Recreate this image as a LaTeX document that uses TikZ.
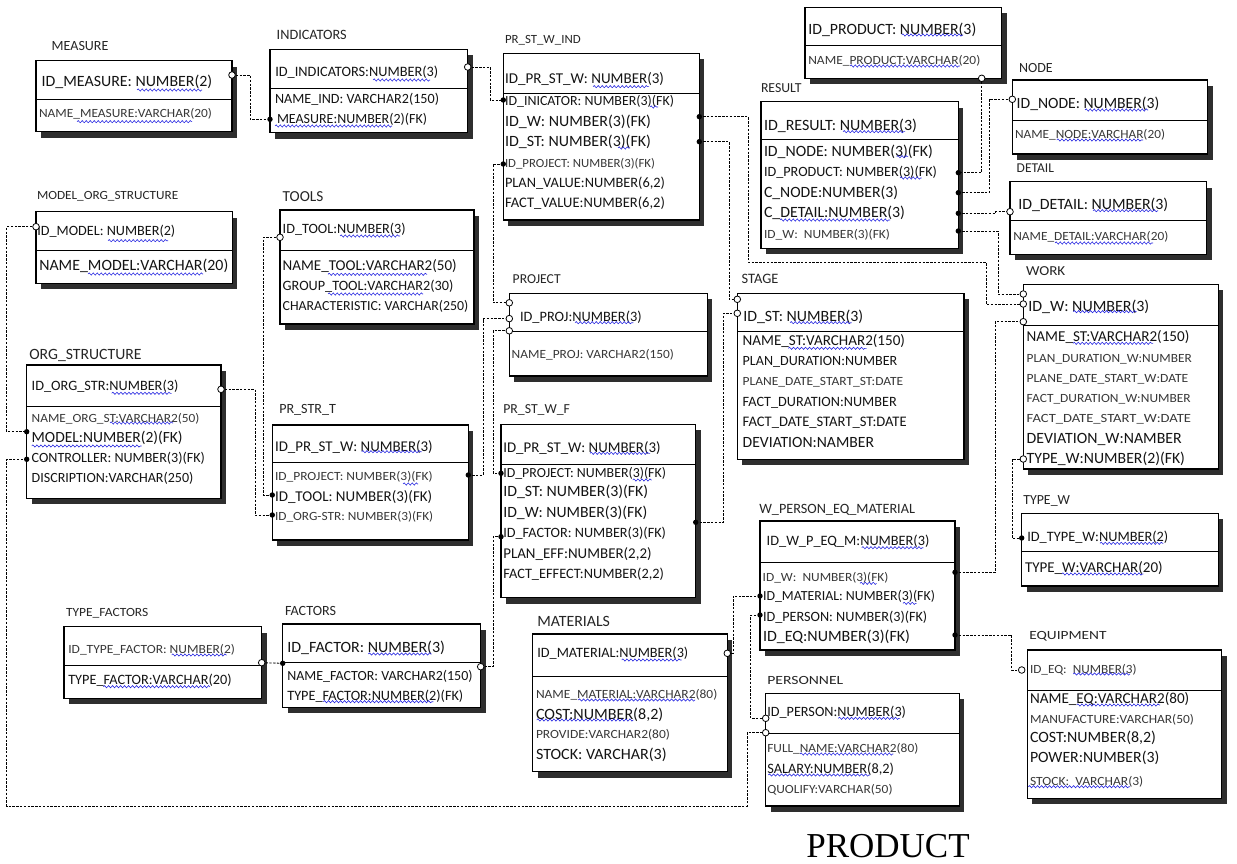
\documentclass[tikz,border=0pt]{standalone}
\usepackage{fontspec}
\setmainfont{Carlito}
\newfontfamily\capfont{Liberation Serif}
\usetikzlibrary{calc,shadows,decorations.pathmorphing}
\definecolor{squig}{RGB}{40,40,225}

% text set at a given size and stretched to a given width
\newcommand\fitn[2]{%
  \setbox0=\hbox{\fontsize{14}{14}\selectfont #2}%
  \pgfmathsetmacro\myr{#1/\the\wd0}%
  \pgfmathsetmacro\myfs{14*min(max(\myr,0.95),1.12)}%
  \setbox0=\hbox{\fontsize{\myfs}{\myfs}\selectfont #2}%
  \pgfmathsetmacro\myr{#1/\the\wd0}%
  \scalebox{\myr}[1]{\box0}}
\newcommand\fitl[2]{%
  \setbox0=\hbox{\fontsize{12.5}{12.5}\selectfont #2}%
  \pgfmathsetmacro\myr{#1/\the\wd0}%
  \scalebox{\myr}[1]{\box0}}

% table box with its key divider
\newcommand\entity[6]{%
  \node[ebox, minimum width={#4-#2}, minimum height={#5-#3}] (#1) at ({(#2+#4)/2},{(#3+#5)/2}) {};
  \draw[divl] (#1.west |- 0,#6) -- (#1.east |- 0,#6);}
\newcommand\entrow[5]{\node[rw] (#1) at (#2,#3) {\fitn{#4}{#5}};}
\newcommand\entrowl[5]{\node[rwl] (#1) at (#2,#3) {\fitl{#4}{#5}};}
\newcommand\enttitle[5]{\node[ttl] (#1) at (#2,#3) {\fitn{#4}{#5}};}
\newcommand\enttitlel[5]{\node[ttl] (#1) at (#2,#3) {\fitl{#4}{#5}};}
\newcommand\squig[3]{\draw[sq] (#1,#3) -- (#2,#3);}
\newcommand\opend[1]{\draw[line width=0.8pt, fill=white] (#1) circle[radius=3.3];}
\newcommand\filld[1]{\fill (#1) circle[radius=2.7];}

\tikzset{
  ebox/.style={draw, line width=1.2pt, fill=white, inner sep=0pt, outer sep=0pt,
    drop shadow={shadow xshift=5pt, shadow yshift=-6pt, fill=black!82, opacity=1}},
  divl/.style={line width=1pt},
  rw/.style={anchor=west, inner sep=0pt, outer sep=0pt, text=black!92},
  rwl/.style={rw, text=black!78},
  ttl/.style={anchor=west, inner sep=0pt, outer sep=0pt, text=black!85},
  fk/.style={line width=0.85pt, dash pattern=on 2.4pt off 1.4pt},
  sq/.style={draw=squig, line width=0.6pt, decorate,
    decoration={snake, amplitude=1.1pt, segment length=4pt}},
}

\begin{document}
\begin{tikzpicture}[x=1pt, y=-1pt]
\fill[white] (0,0) rectangle (1237,864);
\useasboundingbox (0,0) rectangle (1237,864);

% ---------- tables ----------
\entity{meas}{36}{60.7}{232}{131.7}{100}
\entity{ind}{270}{49.3}{467.7}{132.7}{88.3}
\entity{psi}{503.3}{53.3}{699.3}{220}{94}
\entity{prod}{805}{7.3}{1001.7}{78.3}{46}
\entity{res}{761}{101.7}{958.3}{248.3}{140}
\entity{node}{1012.3}{80}{1207.7}{154}{120.7}
\entity{det}{1010}{181.7}{1206.7}{254.3}{220}
\entity{mos}{36}{211.7}{232.3}{283.3}{250}
\entity{tools}{280}{210}{474}{324}{250}
\entity{org}{26.7}{365}{221}{498.3}{406.7}
\entity{prt}{272.3}{425}{468.3}{540}{462.7}
\entity{proj}{509.3}{293.3}{707.3}{376}{331.7}
\entity{stage}{737.3}{293.3}{964}{459.3}{331}
\entity{work}{1023.3}{284.3}{1218.3}{469}{325}
\entity{pwf}{501}{424.3}{695.7}{597.7}{464.3}
\entity{wp}{760}{521}{955}{650}{562.3}
\entity{mat}{532.7}{634}{727.3}{771.7}{676}
\entity{pers}{765.7}{693.3}{959.3}{806}{733.3}
\entity{tw}{1021.7}{513.3}{1218.3}{586}{551.7}
\entity{eq}{1027.3}{650}{1221.7}{798.3}{690}
\entity{tf}{64}{626.7}{261.7}{698.3}{665}
\entity{fac}{282.7}{624}{480.7}{707.3}{662.7}

% ---------- titles ----------
\enttitle{meas-t}{51.7}{46}{56.7}{MEASURE}
\enttitle{ind-t}{276.7}{35}{70}{INDICATORS}
\enttitlel{psi-t}{505}{40.7}{75.7}{PR\_ST\_W\_IND}
\enttitle{res-t}{761}{88.3}{40.7}{RESULT}
\enttitle{node-t}{1019}{68.3}{33.7}{NODE}
\enttitle{det-t}{1016.7}{168.3}{37.3}{DETAIL}
\enttitlel{mos-t}{37}{196.7}{141.3}{MODEL\_ORG\_STRUCTURE}
\enttitle{tools-t}{282.7}{196.7}{40.7}{TOOLS}
\enttitle{org-t}{29.3}{355}{112.3}{ORG\_STRUCTURE}
\enttitle{prt-t}{279.3}{410}{56.7}{PR\_STR\_T}
\enttitle{proj-t}{512.7}{279.3}{48}{PROJECT}
\enttitle{stage-t}{741.7}{279.3}{36.7}{STAGE}
\enttitle{work-t}{1026}{271}{35.7}{WORK}
\enttitle{pwf-t}{503.3}{410}{66.7}{PR\_ST\_W\_F}
\enttitle{wp-t}{759.3}{510}{155.7}{W\_PERSON\_EQ\_MATERIAL}
\enttitle{mat-t}{537.3}{621.7}{72.7}{MATERIALS}
\enttitlel{pers-t}{767.3}{680}{76}{PERSONNEL}
\enttitle{tw-t}{1023.3}{500.7}{46.7}{TYPE\_W}
\enttitlel{eq-t}{1029.3}{636.7}{77.3}{EQUIPMENT}
\enttitlel{tf-t}{66}{613.3}{82.3}{TYPE\_FACTORS}
\enttitle{fac-t}{285}{610.7}{51}{FACTORS}

% ---------- columns ----------
\entrow{meas-1}{41.7}{82}{170.6}{ID\_MEASURE: NUMBER(2)}
\entrowl{meas-2}{39}{114}{173}{NAME\_MEASURE:VARCHAR(20)}

\entrow{ind-1}{275.3}{72}{163}{ID\_INDICATORS:NUMBER(3)}
\entrow{ind-2}{275}{99}{164}{NAME\_IND: VARCHAR2(150)}
\entrow{ind-3}{277}{119.3}{150}{MEASURE:NUMBER(2)(FK)}

\entrow{psi-1}{505}{79.3}{159}{ID\_PR\_ST\_W: NUMBER(3)}
\entrow{psi-2}{505}{101.7}{169}{ID\_INICATOR: NUMBER(3)(FK)}
\entrow{psi-3}{505}{121.7}{146}{ID\_W: NUMBER(3)(FK)}
\entrow{psi-4}{505}{141.7}{146}{ID\_ST: NUMBER(3)(FK)}
\entrowl{psi-5}{505}{164}{150}{ID\_PROJECT: NUMBER(3)(FK)}
\entrow{psi-6}{505}{183.3}{160}{PLAN\_VALUE:NUMBER(6,2)}
\entrow{psi-7}{505}{203.3}{160}{FACT\_VALUE:NUMBER(6,2)}

\entrow{prod-1}{808.3}{30}{168}{ID\_PRODUCT: NUMBER(3)}
\entrowl{prod-2}{808.3}{60.7}{172}{NAME\_PRODUCT:VARCHAR(20)}

\entrow{res-1}{764}{126}{153}{ID\_RESULT: NUMBER(3)}
\entrow{res-2}{764}{151.7}{169}{ID\_NODE: NUMBER(3)(FK)}
\entrow{res-3}{764}{172.7}{173}{ID\_PRODUCT: NUMBER(3)(FK)}
\entrow{res-4}{764}{192.7}{134}{C\_NODE:NUMBER(3)}
\entrow{res-5}{764}{213.3}{141}{C\_DETAIL:NUMBER(3)}
\entrowl{res-6}{764}{235}{126}{ID\_W:\ \ NUMBER(3)(FK)}

\entrow{node-1}{1016.7}{104}{142.6}{ID\_NODE: NUMBER(3)}
\entrowl{node-2}{1015}{135}{150}{NAME\_NODE:VARCHAR(20)}

\entrow{det-1}{1018.3}{205}{150}{ID\_DETAIL: NUMBER(3)}
\entrowl{det-2}{1013.3}{236.7}{155}{NAME\_DETAIL:VARCHAR(20)}

\entrow{mos-1}{37.3}{231.7}{138}{ID\_MODEL: NUMBER(2)}
\entrow{mos-2}{39.3}{266}{189}{NAME\_MODEL:VARCHAR(20)}

\entrow{tools-1}{282.7}{229.3}{123}{ID\_TOOL:NUMBER(3)}
\entrow{tools-2}{282.7}{266}{174}{NAME\_TOOL:VARCHAR2(50)}
\entrow{tools-3}{282.7}{286}{170.7}{GROUP\_TOOL:VARCHAR2(30)}
\entrow{tools-4}{282.7}{306}{185.6}{CHARACTERISTIC: VARCHAR(250)}

\entrow{org-1}{31.7}{386.7}{146.7}{ID\_ORG\_STR:NUMBER(3)}
\entrowl{org-2}{31.7}{418.3}{167.7}{NAME\_ORG\_ST:VARCHAR2(50)}
\entrow{org-3}{31.7}{438.3}{151}{MODEL:NUMBER(2)(FK)}
\entrow{org-4}{31.7}{458.3}{173.3}{CONTROLLER: NUMBER(3)(FK)}
\entrow{org-5}{31.7}{478.3}{161.7}{DISCRIPTION:VARCHAR(250)}

\entrow{prt-1}{275}{446.7}{157.7}{ID\_PR\_ST\_W: NUMBER(3)}
\entrowl{prt-2}{275}{476.7}{157.7}{ID\_PROJECT: NUMBER(3)(FK)}
\entrow{prt-3}{275}{496.7}{157.3}{ID\_TOOL: NUMBER(3)(FK)}
\entrowl{prt-4}{275}{516.7}{158.3}{ID\_ORG-STR: NUMBER(3)(FK)}

\entrow{proj-1}{520}{317.3}{121.7}{ID\_PROJ:NUMBER(3)}
\entrowl{proj-2}{511.7}{355}{162.3}{NAME\_PROJ: VARCHAR2(150)}

\entrow{stage-1}{743.3}{317.3}{120}{ID\_ST: NUMBER(3)}
\entrow{stage-2}{742.7}{340.7}{162.3}{NAME\_ST:VARCHAR2(150)}
\entrow{stage-3}{742.7}{361.7}{154.6}{PLAN\_DURATION:NUMBER}
\entrowl{stage-4}{742.7}{382.7}{160.6}{PLANE\_DATE\_START\_ST:DATE}
\entrow{stage-5}{742.7}{402.7}{154}{FACT\_DURATION:NUMBER}
\entrow{stage-6}{742.7}{422.7}{164}{FACT\_DATE\_START\_ST:DATE}
\entrow{stage-7}{742.7}{442.7}{131.3}{DEVIATION:NAMBER}

\entrow{work-1}{1028.3}{306.7}{121}{ID\_W: NUMBER(3)}
\entrow{work-2}{1026.7}{336.7}{162.6}{NAME\_ST:VARCHAR2(150)}
\entrowl{work-3}{1026.7}{359}{165}{PLAN\_DURATION\_W:NUMBER}
\entrowl{work-4}{1026.7}{379}{161.6}{PLANE\_DATE\_START\_W:DATE}
\entrowl{work-5}{1026.7}{399}{164}{FACT\_DURATION\_W:NUMBER}
\entrowl{work-6}{1026.7}{419}{164.3}{FACT\_DATE\_START\_W:DATE}
\entrow{work-7}{1026.7}{439}{155}{DEVIATION\_W:NAMBER}
\entrow{work-8}{1026.7}{459}{158.3}{TYPE\_W:NUMBER(2)(FK)}

\entrow{pwf-1}{503.3}{448.3}{157.3}{ID\_PR\_ST\_W: NUMBER(3)}
\entrow{pwf-2}{503.3}{473.3}{162.7}{ID\_PROJECT: NUMBER(3)(FK)}
\entrow{pwf-3}{503.3}{492.3}{145}{ID\_ST: NUMBER(3)(FK)}
\entrow{pwf-4}{503.3}{513.3}{144}{ID\_W: NUMBER(3)(FK)}
\entrow{pwf-5}{503.3}{533.3}{162.7}{ID\_FACTOR: NUMBER(3)(FK)}
\entrow{pwf-6}{503.3}{554.3}{148.3}{PLAN\_EFF:NUMBER(2,2)}
\entrow{pwf-7}{503.3}{574.3}{160.7}{FACT\_EFFECT:NUMBER(2,2)}

\entrow{wp-1}{766.7}{541.7}{162.7}{ID\_W\_P\_EQ\_M:NUMBER(3)}
\entrowl{wp-2}{762.7}{577.7}{125.7}{ID\_W:\ \ NUMBER(3)(FK)}
\entrow{wp-3}{763}{596.7}{172}{ID\_MATERIAL: NUMBER(3)(FK)}
\entrow{wp-4}{763}{617.3}{164.3}{ID\_PERSON: NUMBER(3)(FK)}
\entrow{wp-5}{763}{636.7}{147}{ID\_EQ:NUMBER(3)(FK)}

\entrow{mat-1}{537.3}{653.3}{151}{ID\_MATERIAL:NUMBER(3)}
\entrowl{mat-2}{536}{695}{181.3}{NAME\_MATERIAL:VARCHAR2(80)}
\entrow{mat-3}{536}{715}{127.3}{COST:NUMBER(8,2)}
\entrowl{mat-4}{536}{735}{134}{PROVIDE:VARCHAR2(80)}
\entrow{mat-5}{536}{755}{130.7}{STOCK: VARCHAR(3)}

\entrow{pers-1}{767.3}{712.7}{138.7}{ID\_PERSON:NUMBER(3)}
\entrowl{pers-2}{767.3}{748.3}{151}{FULL\_NAME:VARCHAR2(80)}
\entrow{pers-3}{767.3}{769.3}{126.7}{SALARY:NUMBER(8,2)}
\entrowl{pers-4}{767.3}{789.3}{125.3}{QUOLIFY:VARCHAR(50)}

\entrow{tw-1}{1027.3}{537.3}{141}{ID\_TYPE\_W:NUMBER(2)}
\entrow{tw-2}{1025}{568.3}{137.7}{TYPE\_W:VARCHAR(20)}

\entrowl{eq-1}{1030}{669.3}{106.7}{ID\_EQ:\ \ NUMBER(3)}
\entrow{eq-2}{1030}{699.3}{159.3}{NAME\_EQ:VARCHAR2(80)}
\entrowl{eq-3}{1030}{719.3}{164}{MANUFACTURE:VARCHAR(50)}
\entrow{eq-4}{1030}{738.3}{126}{COST:NUMBER(8,2)}
\entrow{eq-5}{1030}{758.3}{129.3}{POWER:NUMBER(3)}
\entrowl{eq-6}{1030}{781.7}{113.3}{STOCK:\ \ VARCHAR(3)}

\entrowl{tf-1}{68.3}{650}{166.7}{ID\_TYPE\_FACTOR: NUMBER(2)}
\entrow{tf-2}{68.3}{680}{163.3}{TYPE\_FACTOR:VARCHAR(20)}

\entrow{fac-1}{287.3}{648.3}{157.7}{ID\_FACTOR: NUMBER(3)}
\entrow{fac-2}{287.3}{676}{185.3}{NAME\_FACTOR: VARCHAR2(150)}
\entrow{fac-3}{287.3}{696}{176}{TYPE\_FACTOR:NUMBER(2)(FK)}

% ---------- spell-check underlines ----------
\squig{137}{202}{90} \squig{77}{192}{121.7} \squig{373}{430}{80} \squig{275}{392}{126}
\squig{593}{649}{86.7} \squig{650}{658}{107} \squig{618}{630}{148}
\squig{901.7}{963}{35} \squig{850}{960}{66} \squig{1085}{1148}{110} \squig{1056.7}{1143}{140}
\squig{843}{905}{131.7} \squig{896.7}{908}{156.7} \squig{900}{921.7}{178} \squig{780}{890}{220}
\squig{1093}{1158}{210.7} \squig{1055}{1153}{243}
\squig{108}{168}{240.7} \squig{88}{203}{274} \squig{340}{400}{236} \squig{328}{427}{274.3} \squig{328}{423}{294}
\squig{111.7}{171.7}{393.3} \squig{110}{173}{423} \squig{31.7}{141.7}{446} \squig{361.7}{421.7}{451.7} \squig{403}{418}{484}
\squig{575}{633.3}{322.7} \squig{788.3}{866.7}{348.3} \squig{790}{851.7}{322.7} \squig{590}{650}{453.3}
\squig{1073.3}{1136.7}{311.7} \squig{1073}{1153}{343.3}
\squig{632.7}{651.7}{480} \squig{861.7}{923.3}{547.7} \squig{860}{876.7}{583.3} \squig{903}{916.7}{603.3}
\squig{171.7}{226.7}{655} \squig{103.3}{210}{686.7} \squig{368.3}{431.7}{654} \squig{323.3}{433.3}{701.7}
\squig{621.7}{681.7}{660} \squig{578.3}{695}{700} \squig{536.7}{633.3}{720}
\squig{838.3}{900}{718.3} \squig{800}{893.3}{754} \squig{768.3}{870}{775}
\squig{1100}{1163.3}{543.3} \squig{1061.7}{1143.3}{574} \squig{1073.3}{1130}{674}
\squig{1076.7}{1160}{705} \squig{1028.3}{1130}{786.7}

% ---------- connector ends ----------
\coordinate (a1) at ($(meas.east |- meas-1)+(0,-7)$);
\coordinate (b1) at (ind.west |- ind-3);
\coordinate (a2) at ($(ind.east |- ind-1)+(0,-5)$);
\coordinate (b2) at ($(psi.west |- psi-2)+(0,-1.7)$);
\coordinate (a3) at ($(psi.east |- psi-3)+(0,-5)$);
\coordinate (b3) at ($(work.west |- work-1)+(0,-2.7)$);
\coordinate (a4) at (psi.east |- psi-4);
\coordinate (b4) at ($(stage.west |- stage-1)+(0,-18)$);
\coordinate (a5) at (psi.west |- psi-5);
\coordinate (b5) at ($(proj.west |- proj-1)+(0,-14.5)$);
\coordinate (a6) at ($(prt.east |- prt-2)+(0,-1.7)$);
\coordinate (b6) at ($(proj.west |- proj-1)+(0,1.3)$);
\coordinate (a7) at (pwf.west |- pwf-2);
\coordinate (b7) at ($(proj.west |- proj-1)+(0,13.5)$);
\coordinate (a8) at ($(pwf.east |- pwf-4)+(0,9)$);
\coordinate (b8) at ($(stage.west |- stage-1)+(0,-4)$);
\coordinate (a9) at ($(fac.east |- fac-2)+(0,-9.3)$);
\coordinate (b9) at ($(pwf.west |- pwf-5)+(0,3.4)$);
\coordinate (a10) at ($(tf.east |- tf-1)+(0,12.7)$);
\coordinate (b10) at ($(fac.west |- fac-1)+(0,15)$);
\coordinate (a11) at ($(mos.west |- mos-1)+(0,-5)$);
\coordinate (b11) at ($(org.west |- org-3)+(0,-6.6)$);
\coordinate (a12) at ($(tools.west |- tools-1)+(0,8)$);
\coordinate (b12) at ($(prt.west |- prt-3)+(0,-1.7)$);
\coordinate (a13) at ($(org.east |- org-1)+(0,2.6)$);
\coordinate (b13) at ($(prt.west |- prt-4)+(0,-1.7)$);
\coordinate (a14) at ($(org.west |- org-4)+(0,1)$);
\coordinate (b14) at ($(pers.west |- pers-1)+(0,20)$);
\coordinate (a15) at ($(wp.west |- wp-4)+(0,-2.3)$);
\coordinate (b15) at ($(pers.west |- pers-1)+(0,5.6)$);
\coordinate (a16) at ($(wp.west |- wp-3)+(0,-0.7)$);
\coordinate (b16) at (mat.east |- mat-1);
\coordinate (a17) at ($(wp.east |- wp-2)+(0,-5.4)$);
\coordinate (b17) at ($(work.west |- work-1)+(0,15)$);
\coordinate (a18) at ($(wp.east |- wp-5)+(0,-1.7)$);
\coordinate (b18) at ($(eq.west |- eq-1)+(-5.6,0.7)$);
\coordinate (a19) at (work.west |- work-8);
\coordinate (b19) at ($(tw.west |- tw-1)+(0,0.7)$);
\coordinate (a20) at ($(prod.south west)+(176.7,0)$);
\coordinate (b20) at (res.east |- res-3);
\coordinate (a21) at (res.east |- res-4);
\coordinate (b21) at ($(node.west |- node-1)+(0,-4.7)$);
\coordinate (a22) at (res.east |- res-5);
\coordinate (b22) at ($(det.west |- det-1)+(0,6.7)$);
\coordinate (a23) at ($(res.east |- res-6)+(0,-4)$);
\coordinate (b23) at ($(work.west |- work-1)+(0,-12.7)$);

% ---------- connectors ----------
\draw[fk] (a1) -- ++(18,0) |- (b1);
\draw[fk] (a2) -- ++(22.3,0) |- (b2);
\draw[fk] (a3) -- ++(48.7,0) |- (986,262) |- (b3);
\draw[fk] (a4) -- ++(29.7,0) |- (b4);
\draw[fk] (a5) -- ++(-10.3,0) |- (b5);
\draw[fk] (a6) -- ++(14.7,0) |- (b6);
\draw[fk] (a7) -- ++(-8,0) |- (b7);
\draw[fk] (a8) -- ++(27.6,0) |- (b8);
\draw[fk] (a9) -- ++(12.3,0) |- (b9);
\draw[fk] (a10) -- (b10);
\draw[fk] (a11) -- ++(-29.3,0) |- (b11);
\draw[fk] (a12) -- ++(-16.7,0) |- (b12);
\draw[fk] (a13) -- ++(34,0) |- (b13);
\draw[fk] (a14) -- ++(-20,0) |- (747,806) |- (b14);
\draw[fk] (a15) -- ++(-9.3,0) |- (b15);
\draw[fk] (a16) -- ++(-27,0) |- (b16);
\draw[fk] (a17) -- ++(40,0) |- (b17);
\draw[fk] (a18) -- ++(56.7,0) |- (b18);
\draw[fk] (a19) -- ++(-11.3,0) |- (b19);
\draw[fk] (a20) |- (b20);
\draw[fk] (a21) -- ++(30.7,0) |- (b21);
\draw[fk] (a22) -- ++(36.7,0) |- (b22);
\draw[fk] (a23) -- ++(39.7,0) |- (b23);

% ---------- end marks ----------
\foreach \p in {a1,a2,b3,b4,b5,b6,b7,b8,a9,a10,a11,a12,a13,b14,b15,b16,b17,b18,a19,a20,b21,b22,b23}
  {\opend{\p}}
\foreach \p in {b1,b2,a3,a4,a5,a6,a7,a8,b9,b10,b11,b12,b13,a14,a15,a16,a17,a18,b19,b20,a21,a22,a23}
  {\filld{\p}}

% ---------- caption ----------
\node[inner sep=0pt, font=\capfont\fontsize{35}{35}\selectfont] (caption) at (888,846) {PRODUCT};
\end{tikzpicture}
\end{document}
